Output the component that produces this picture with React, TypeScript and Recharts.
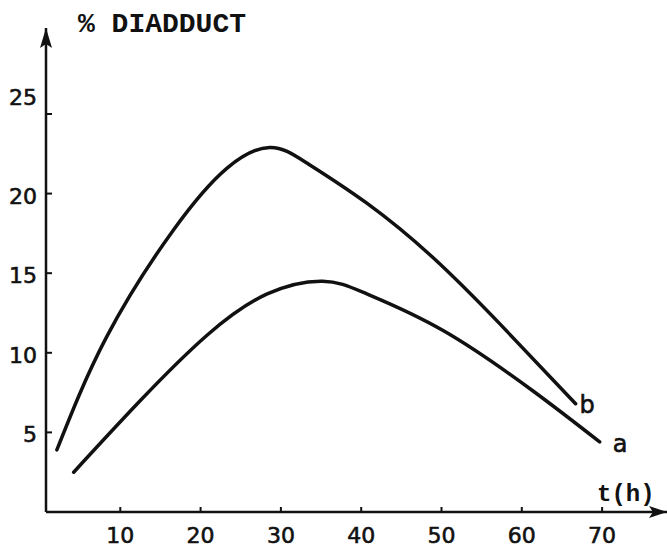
import { LineChart, Line, XAxis, YAxis, ReferenceDot, LabelList } from "recharts";

// curve b: time (h) and % diadduct
const timeB = [2.1, 8.3, 16.6, 23.3, 28.6, 33.3, 40.7, 48.9, 57.3, 66.7];
const diadductB = [3.9, 11.0, 17.7, 21.6, 22.9, 21.9, 19.4, 16.0, 11.8, 6.8];

// curve a
const timeA = [4.2, 12.5, 20.8, 28.3, 35.2, 40.7, 50.2, 61.4, 69.7];
const diadductA = [2.5, 7.0, 11.1, 13.7, 14.5, 13.7, 11.4, 7.6, 4.4];

const xTicks = [10, 20, 30, 40, 50, 60, 70];
const yTicks = [5, 10, 15, 20, 25];

const dataB = timeB.map((t, i) => ({ t, v: diadductB[i] }));
const dataA = timeA.map((t, i) => ({ t, v: diadductA[i] }));

const X_MIN = 0.75;
const X_MAX = 78.08;
const Y_MAX = 30.4;

const INK = "#111";
const tickFont = "'DejaVu Sans', sans-serif";
const monoFont = "'Liberation Mono', monospace";

const XTick = ({ x, y, payload }: any) => (
  <g>
    <line x1={x} y1={y} x2={x} y2={y - 5} stroke={INK} strokeWidth={2} />
    <text
      x={x}
      y={y + 31}
      textAnchor="middle"
      fontFamily={tickFont}
      fontSize={22}
      fill={INK}
      stroke={INK}
      strokeWidth={0.6}
    >
      {payload.value}
    </text>
  </g>
);

const YTick = ({ x, y, payload }: any) => {
  // the top label sits above its tick
  const shift = payload.value === 25 ? -17 : 2;
  return (
    <g>
      <line x1={x + 8} y1={y} x2={x + 14} y2={y} stroke={INK} strokeWidth={2} />
      <text
        x={x - 1}
        y={y + shift + 8}
        textAnchor="end"
        fontFamily={tickFont}
        fontSize={22}
        fill={INK}
        stroke={INK}
        strokeWidth={0.6}
      >
        {payload.value}
      </text>
    </g>
  );
};

const ArrowUp = ({ cx, cy }: any) => (
  <polygon points={`${cx},${cy} ${cx - 6},${cy + 20} ${cx},${cy + 16} ${cx + 6},${cy + 20}`} fill={INK} />
);

const ArrowRight = ({ cx, cy }: any) => (
  <polygon points={`${cx},${cy} ${cx - 18},${cy - 6} ${cx - 14},${cy} ${cx - 18},${cy + 6}`} fill={INK} />
);

const endLabel = (name: string, count: number, dx: number, dy: number) => (props: any) => {
  if (props.index !== count - 1) return null;
  return (
    <text
      x={props.x + dx}
      y={props.y + dy}
      fontFamily={tickFont}
      fontSize={24}
      fill={INK}
      stroke={INK}
      strokeWidth={0.6}
    >
      {name}
    </text>
  );
};

export default function App() {
  return (
    <div style={{ position: "absolute", left: 0, top: 0, width: 667, height: 560, background: "#fff" }}>
      <LineChart width={667} height={560} margin={{ top: 28, right: 0, bottom: 0, left: 0 }}>
        <XAxis
          type="number"
          dataKey="t"
          domain={[X_MIN, X_MAX]}
          ticks={xTicks}
          allowDataOverflow
          height={48}
          tickSize={0}
          tickMargin={0}
          tick={<XTick />}
          axisLine={{ stroke: INK, strokeWidth: 2.5 }}
          label={({ viewBox }: any) => (
            <text
              x={viewBox.x + viewBox.width - 70}
              y={viewBox.y - 11}
              fontFamily={monoFont}
              fontWeight="bold"
              fontSize={24}
              fill={INK}
            >
              t(h)
            </text>
          )}
        />
        <YAxis
          type="number"
          domain={[0, Y_MAX]}
          ticks={yTicks}
          allowDataOverflow
          width={46}
          tickSize={0}
          tickMargin={8}
          tick={<YTick />}
          axisLine={{ stroke: INK, strokeWidth: 2.5 }}
          label={({ viewBox }: any) => (
            <text
              x={viewBox.x + viewBox.width + 32}
              y={viewBox.y + 4}
              fontFamily={monoFont}
              fontWeight="bold"
              fontSize={28}
              fill={INK}
            >
              % DIADDUCT
            </text>
          )}
        />
        <ReferenceDot x={X_MIN} y={Y_MAX} r={0} ifOverflow="visible" shape={<ArrowUp />} />
        <ReferenceDot x={X_MAX} y={0} r={0} ifOverflow="visible" shape={<ArrowRight />} />
        <Line
          data={dataB}
          dataKey="v"
          type="natural"
          stroke={INK}
          strokeWidth={3.5}
          strokeLinecap="round"
          dot={false}
          isAnimationActive={false}
        >
          <LabelList dataKey="v" content={endLabel("b", dataB.length, 4, 9)} />
        </Line>
        <Line
          data={dataA}
          dataKey="v"
          type="natural"
          stroke={INK}
          strokeWidth={3.5}
          strokeLinecap="round"
          dot={false}
          isAnimationActive={false}
        >
          <LabelList dataKey="v" content={endLabel("a", dataA.length, 13, 10)} />
        </Line>
      </LineChart>
    </div>
  );
}
